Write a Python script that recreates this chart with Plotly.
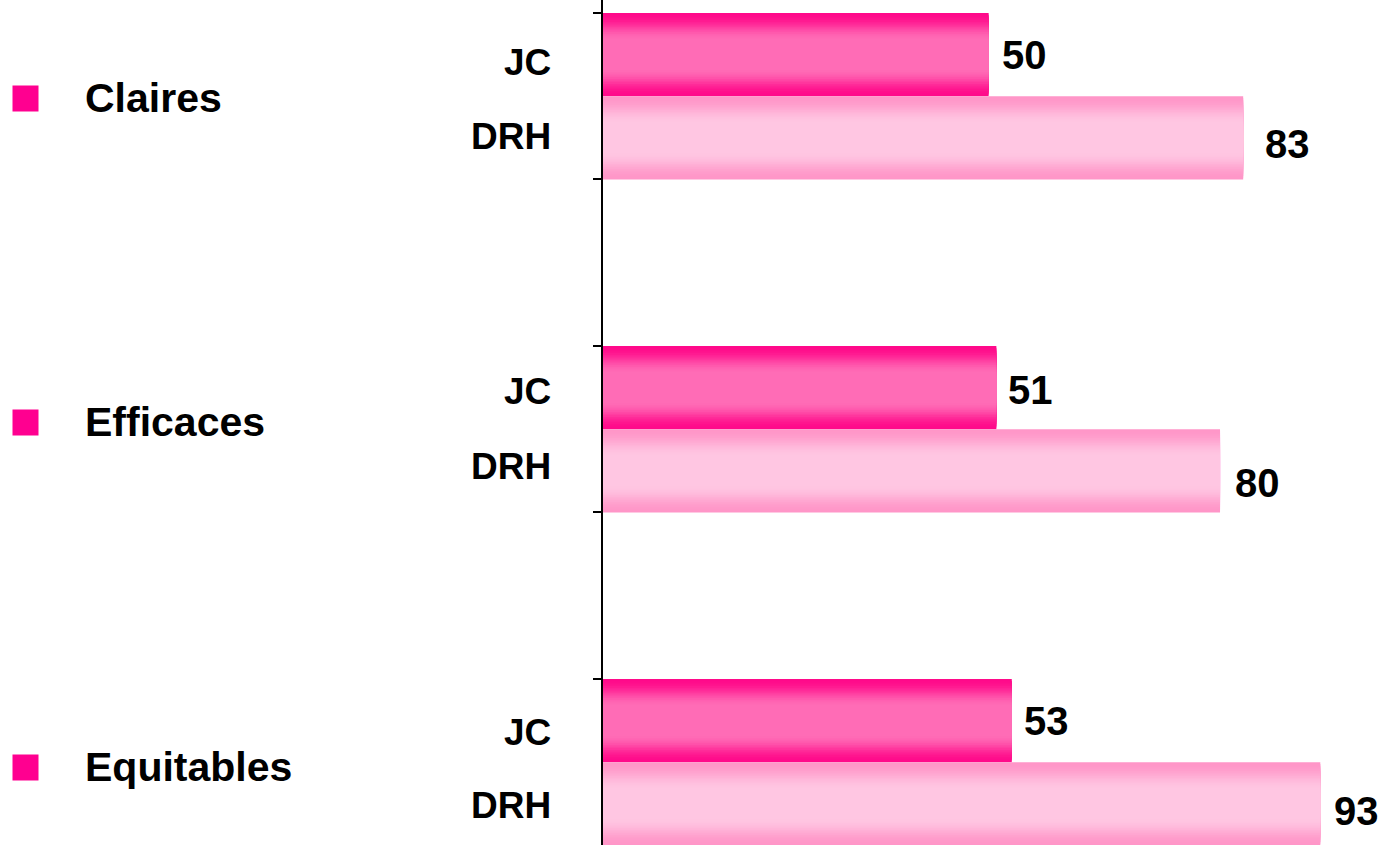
import plotly.graph_objects as go

# ---- data ----
groups = ["Claires", "Efficaces", "Equitables"]
series = ["JC", "DRH"]
jc_values = [50, 51, 53]
drh_values = [83, 80, 93]

# ---- style ----
FONT = "Arial, 'Liberation Sans', sans-serif"
JC_EDGE, JC_MID = (255, 10, 138), (255, 108, 182)
DRH_EDGE, DRH_MID = (255, 150, 200), (255, 198, 226)
BULLET = "#FF0090"
GROUP_STEP = 4.0   # one group = 2 bars + gap of 2 bars
LEVELS = 24


def mix(a, b, t):
    return "rgb(%d,%d,%d)" % tuple(round(a[i] + (b[i] - a[i]) * t) for i in range(3))


def profile(h):
    # h = half-height of nested bar (0..0.5); 1 = middle colour, 0 = edge colour
    lo, hi = 0.18, 0.5
    if h <= lo:
        return 1.0
    u = (hi - h) / (hi - lo)
    return u * u * (3 - 2 * u)


fig = go.Figure()

jc_pos = [k * GROUP_STEP + 0.5 for k in range(len(groups))]
drh_pos = [k * GROUP_STEP + 1.5 for k in range(len(groups))]

for vals, pos, edge, mid in [(jc_values, jc_pos, JC_EDGE, JC_MID),
                             (drh_values, drh_pos, DRH_EDGE, DRH_MID)]:
    for j in range(LEVELS):
        w = 1.0 - j / LEVELS
        t = profile(w / 2)
        fig.add_trace(go.Bar(
            x=vals, y=pos, orientation="h", width=w,
            marker=dict(color=mix(edge, mid, t), line=dict(width=0)),
            showlegend=False, hoverinfo="skip",
        ))

annotations = []
# value labels
jc_shift = [(11, 0), (10, -2), (10, 0)]
drh_shift = [(20, -6), (13, -12), (12, -7)]
for v, p, s in zip(jc_values, jc_pos, jc_shift):
    annotations.append(dict(x=v, y=p, xref="x", yref="y", text="<b>%d</b>" % v,
                            showarrow=False, xanchor="left", yanchor="middle",
                            xshift=s[0], yshift=s[1],
                            font=dict(family=FONT, size=40, color="black")))
for v, p, s in zip(drh_values, drh_pos, drh_shift):
    annotations.append(dict(x=v, y=p, xref="x", yref="y", text="<b>%d</b>" % v,
                            showarrow=False, xanchor="left", yanchor="middle",
                            xshift=s[0], yshift=s[1],
                            font=dict(family=FONT, size=40, color="black")))

# series labels (JC / DRH) left of axis
jc_lab_shift = [-8, -4, -12]
drh_lab_shift = [1, 4, -2]
for k in range(len(groups)):
    annotations.append(dict(x=0, y=jc_pos[k], xref="paper", yref="y", text="<b>%s</b>" % series[0],
                            showarrow=False, xanchor="right", yanchor="middle",
                            xshift=-50, yshift=jc_lab_shift[k],
                            font=dict(family=FONT, size=37, color="black")))
    annotations.append(dict(x=0, y=drh_pos[k], xref="paper", yref="y", text="<b>%s</b>" % series[1],
                            showarrow=False, xanchor="right", yanchor="middle",
                            xshift=-50, yshift=drh_lab_shift[k],
                            font=dict(family=FONT, size=37, color="black")))

# group labels with bullets
grp_shift = [-2, 7, -5]
shapes = []
for k, g in enumerate(groups):
    c = k * GROUP_STEP + 1.0
    annotations.append(dict(x=0, y=c, xref="paper", yref="y", text="<b>%s</b>" % g,
                            showarrow=False, xanchor="left", yanchor="middle",
                            xshift=-520, yshift=grp_shift[k],
                            font=dict(family=FONT, size=41, color="black")))
    annotations.append(dict(x=0, y=c, xref="paper", yref="y", text="",
                            showarrow=False, xanchor="left", yanchor="middle",
                            xshift=-591, yshift=grp_shift[k], width=25, height=25,
                            bgcolor=BULLET, borderpad=0))

tick_vals = []
for k in range(len(groups)):
    tick_vals += [k * GROUP_STEP, k * GROUP_STEP + 2]
tick_vals.append(len(groups) * GROUP_STEP)

fig.update_layout(
    width=1382, height=845,
    margin=dict(l=603, r=0, t=0, b=0),
    paper_bgcolor="white", plot_bgcolor="white",
    barmode="overlay",
    annotations=annotations,
    xaxis=dict(range=[0, 101], visible=False, fixedrange=True),
    yaxis=dict(range=[9.994, -0.156], showgrid=False, zeroline=False,
               showline=True, linecolor="black", linewidth=2,
               ticks="outside", ticklen=8, tickwidth=2, tickcolor="black",
               tickvals=tick_vals, showticklabels=False, fixedrange=True),
    showlegend=False,
)

fig.write_html("out.html", config={"displayModeBar": False})
